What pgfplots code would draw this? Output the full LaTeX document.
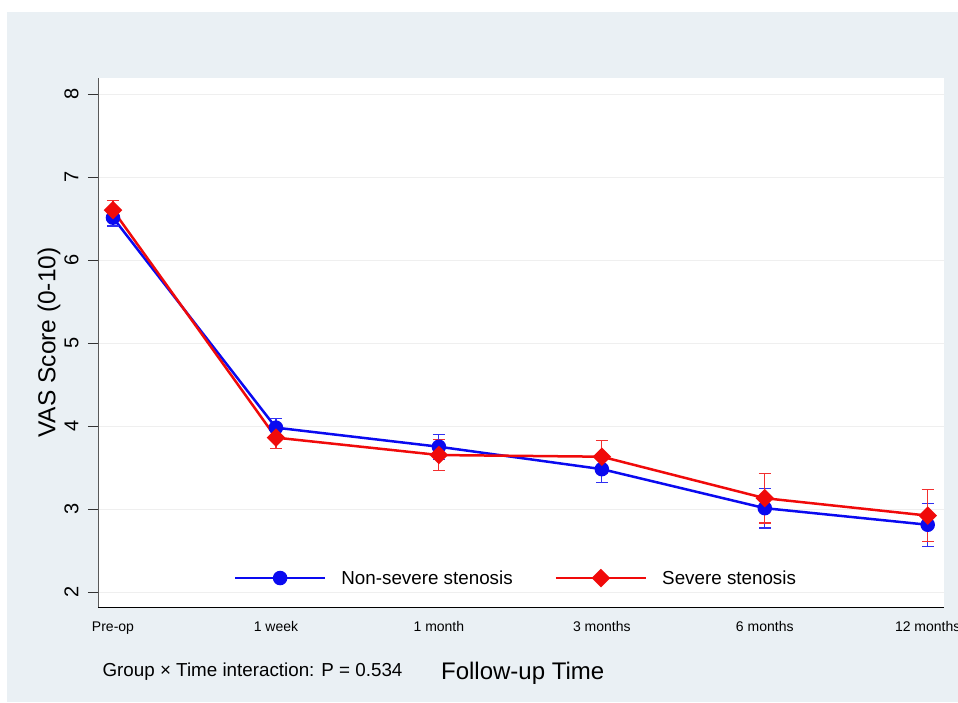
\documentclass[border=0pt]{standalone}
\usepackage{pgfplots}
\pgfplotsset{compat=1.18}
\usepackage{fontspec}
\setmainfont{Liberation Sans}
\definecolor{bggray}{HTML}{EAF0F4}
\definecolor{gridc}{HTML}{EFEFEF}
\definecolor{ser1}{HTML}{0A0AF0}
\definecolor{ser2}{HTML}{F00A0A}
\begin{document}
\begin{tikzpicture}[x=1pt,y=1pt]
\path[use as bounding box, fill=white] (0,0) rectangle (958,702);
\fill[bggray] (7,0) rectangle (958,690);
\begin{axis}[
  at={(98pt,95pt)}, anchor=south west,
  scale only axis, width=846pt, height=529pt,
  xmin=-0.092, xmax=5.1, ymin=1.819, ymax=8.193,
  axis background/.style={fill=white},
  axis x line*=bottom, axis y line*=left,
  x axis line style={black, line width=1pt, -},
  y axis line style={black!65, line width=1pt, -},
  xtick={0,1,2,3,4,5},
  xticklabels={Pre-op,1 week,1 month,3 months,6 months,12 months},
  xtick style={draw=none},
  xticklabel style={font=\fontsize{14}{16}\selectfont, yshift=-1pt},
  ytick={2,3,4,5,6,7,8},
  tick align=outside, major tick length=10pt,
  ytick style={black!80, line width=0.8pt},
  yticklabel style={xshift=-6pt, rotate=90, anchor=south, font=\fontsize{20}{22}\selectfont},
  /pgf/number format/assume math mode=true,
  ymajorgrids, grid style={gridc, line width=0.8pt},
  ylabel={VAS Score (0-10)},
  every axis y label/.style={at={(axis description cs:-0.058,0.5)}, rotate=90, anchor=center, font=\fontsize{24.5}{27}\selectfont},
  xlabel={Follow-up Time},
  every axis x label/.style={at={(axis description cs:0.502,-0.1248)}, anchor=center, font=\fontsize{24}{27}\selectfont},
  legend columns=2,
  legend style={draw=none, fill=none, at={(axis description cs:0.494,0.0548)}, anchor=center,
    font=\fontsize{18.8}{21}\selectfont,
    /tikz/every even column/.append style={column sep=40pt}},
  legend image code/.code={\draw[mark repeat=2,mark phase=2] plot coordinates {(0pt,0pt)(45pt,0pt)(90pt,0pt)};\path (103pt,0pt);},
  clip=false,
]
\addplot[ser1, line width=2.5pt, mark=*, mark size=6pt,
  error bars/.cd, y dir=both, y explicit,
  error bar style={line width=1.2pt, ser1!85!white},
  error mark options={rotate=90, mark size=6pt, line width=1.2pt, ser1!85!white}]
  coordinates {
  (0,6.51) +- (0,0.10)
  (1,3.98) +- (0,0.11)
  (2,3.75) +- (0,0.15)
  (3,3.48) +- (0,0.16)
  (4,3.01) +- (0,0.24)
  (5,2.81) +- (0,0.26)
  };
\addlegendentry{Non-severe stenosis}
\addplot[ser2, line width=2.5pt, mark=square*, mark size=5.3pt, mark options={rotate=45},
  error bars/.cd, y dir=both, y explicit,
  error bar style={line width=1.2pt, ser2!85!white},
  error mark options={rotate=90, mark size=6pt, line width=1.2pt, ser2!85!white}]
  coordinates {
  (0,6.60) +- (0,0.12)
  (1,3.86) +- (0,0.13)
  (2,3.65) +- (0,0.19)
  (3,3.63) +- (0,0.20)
  (4,3.13) +- (0,0.30)
  (5,2.92) +- (0,0.31)
  };
\addlegendentry{Severe stenosis}
\node[anchor=west, font=\fontsize{18.8}{21}\selectfont] at (axis description cs:0.0012,-0.1229) {Group × Time interaction: P = 0.534};
\end{axis}
\end{tikzpicture}
\end{document}
